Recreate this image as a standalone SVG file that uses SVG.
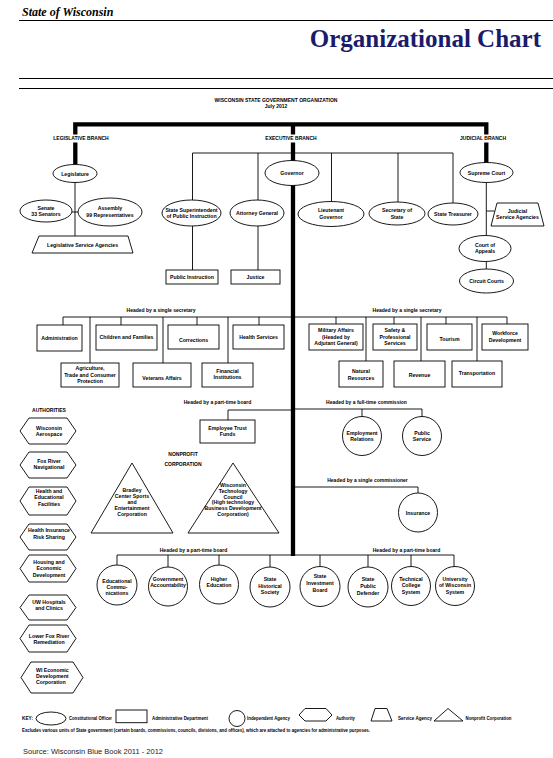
<svg xmlns="http://www.w3.org/2000/svg" width="553" height="758" viewBox="0 0 553 758">
<style>
.t{font-family:"Liberation Sans",Arial,sans-serif;font-size:5.2px;font-weight:bold;text-anchor:middle;fill:#000}
.ts{font-family:"Liberation Sans",Arial,sans-serif;font-size:5.2px;font-weight:bold;text-anchor:start;fill:#000}
.h{font-family:"Liberation Sans",Arial,sans-serif;font-size:5px;font-weight:bold;text-anchor:middle;fill:#000}
.k{font-family:"Liberation Sans",Arial,sans-serif;font-size:4.9px;font-weight:bold;fill:#000}
.s{fill:#fff;stroke:#000;stroke-width:0.9}
.c{fill:none;stroke:#000;stroke-width:0.9}
.b{fill:none;stroke:#000;stroke-width:4.3}
.r{fill:none;stroke:#000;stroke-width:1}
.w{fill:#fff}
</style>
<rect width="553" height="758" fill="#fff"/>
<g id="header">
<text x="22" y="15.5" font-family="'Liberation Serif',serif" font-size="12" font-weight="bold" font-style="italic">State of Wisconsin</text>
<line class="r" x1="19" y1="20.5" x2="553" y2="20.5"/>
<text x="541" y="47" text-anchor="end" font-family="'Liberation Serif',serif" font-size="25" font-weight="bold" fill="#1b1b6b">Organizational Chart</text>
<line class="r" x1="19" y1="78.5" x2="553" y2="78.5"/>
<line class="r" x1="19" y1="88.5" x2="553" y2="88.5"/>
<text class="h" x="276" y="101.7" font-size="4.8">WISCONSIN STATE GOVERNMENT ORGANIZATION</text>
<text class="h" x="276" y="108" font-size="4.6">July 2012</text>
</g>
<g id="connectors">
<path class="b" d="M75.3,164 V124.3 H486.3 V164"/>
<path class="b" d="M293,124 V556"/>
<path class="c" d="M75,182 V236 M72,212 H79"/>
<path class="c" d="M192.5,153 H453 M192.5,153 V200 M258,153 V200 M331.5,153 V201.5 M398,153 V202 M453,153 V203"/>
<path class="c" d="M192.5,226 V270 M258,226 V270"/>
<path class="c" d="M486.3,182 V235.5 M486.3,211 H494.5 M486.3,261.5 V269"/>
<path class="c" d="M63,317 H293 M63,317 V325 M90,317 V363 M121,317 V325 M163,317 V363 M197,317 V325 M228,317 V363 M259,317 V325"/>
<path class="c" d="M293,317 H507 M336,317 V324 M366,317 V361 M394,317 V324 M421,317 V361 M446,317 V324 M477,317 V361 M507,317 V324"/>
<path class="c" d="M293,410 H228 V420"/>
<path class="c" d="M293,409 H422 V417 M362,409 V417"/>
<path class="c" d="M293,487 H418 V493"/>
<path class="c" d="M117,555 H454 M117,555 V565 M168,555 V567 M219,555 V565 M270,555 V567 M320,555 V566.5 M368,555 V567 M411,555 V567 M454,555 V567"/>
</g>
<g id="labels">
<rect class="w" x="51" y="134.5" width="60" height="8"/>
<text class="h" x="81" y="140.3">LEGISLATIVE BRANCH</text>
<rect class="w" x="262" y="134.5" width="58" height="8"/>
<text class="h" x="291" y="140.3">EXECUTIVE BRANCH</text>
<rect class="w" x="457" y="134.5" width="52" height="8"/>
<text class="h" x="483" y="140.3">JUDICIAL BRANCH</text>
<text class="h" x="161" y="312">Headed by a single secretary</text>
<text class="h" x="407" y="311.5">Headed by a single secretary</text>
<text class="h" x="217.5" y="403.5">Headed by a part-time board</text>
<text class="h" x="366.5" y="403.5">Headed by a full-time commission</text>
<text class="h" x="367.5" y="482">Headed by a single commissioner</text>
<text class="h" x="49" y="412">AUTHORITIES</text>
<text class="h" x="183" y="455.5">NONPROFIT</text>
<text class="h" x="183" y="465.5">CORPORATION</text>
<text class="h" x="193.5" y="552">Headed by a part-time board</text>
<text class="h" x="406.5" y="551.5">Headed by a part-time board</text>
</g>
<g id="legislature"><ellipse class="s" cx="75" cy="173.5" rx="22" ry="9"/><text class="t" x="75" y="175.5">Legislature</text></g>
<g id="senate"><ellipse class="s" cx="46" cy="211" rx="26" ry="11"/><text class="t" x="46" y="209.5">Senate</text><text class="t" x="46" y="216">33 Senators</text></g>
<g id="assembly"><ellipse class="s" cx="110" cy="212" rx="32" ry="14"/><text class="t" x="110" y="210">Assembly</text><text class="t" x="110" y="216.5">99 Representatives</text></g>
<g id="legislative-service-agencies"><path class="s" d="M39,236 H128 L133,253 H32 Z"/><text class="t" x="82.5" y="246.5">Legislative Service Agencies</text></g>
<g id="governor"><ellipse class="s" cx="292" cy="173" rx="27" ry="12.5"/><text class="t" x="292" y="175">Governor</text></g>
<g id="state-superintendent"><ellipse class="s" cx="191.5" cy="213" rx="29.5" ry="13"/><text class="t" x="191.5" y="211.5">State Superintendent</text><text class="t" x="191.5" y="218">of Public Instruction</text></g>
<g id="attorney-general"><ellipse class="s" cx="257" cy="213" rx="27" ry="13"/><text class="t" x="257" y="215">Attorney General</text></g>
<g id="lieutenant-governor"><ellipse class="s" cx="331" cy="214" rx="33" ry="12.5"/><text class="t" x="331" y="212">Lieutenant</text><text class="t" x="331" y="218.5">Governor</text></g>
<g id="secretary-of-state"><ellipse class="s" cx="397" cy="213.5" rx="28" ry="11.5"/><text class="t" x="397" y="212">Secretary of</text><text class="t" x="397" y="218.5">State</text></g>
<g id="state-treasurer"><ellipse class="s" cx="453" cy="214" rx="25" ry="11"/><text class="t" x="453" y="216">State Treasurer</text></g>
<g id="public-instruction"><rect class="s" x="166" y="270" width="52" height="14"/><text class="t" x="192" y="279">Public Instruction</text></g>
<g id="justice"><rect class="s" x="231" y="270" width="49" height="14"/><text class="t" x="255.5" y="279">Justice</text></g>
<g id="supreme-court"><ellipse class="s" cx="486.5" cy="172.5" rx="26.5" ry="10"/><text class="t" x="486.5" y="174.5">Supreme Court</text></g>
<g id="judicial-service-agencies"><path class="s" d="M497,203 H538 L544,226 H491 Z"/><text class="t" x="517.5" y="212.5">Judicial</text><text class="t" x="517.5" y="219">Service Agencies</text></g>
<g id="court-of-appeals"><ellipse class="s" cx="485" cy="248.5" rx="26" ry="13"/><text class="t" x="485" y="246.5">Court of</text><text class="t" x="485" y="253">Appeals</text></g>
<g id="circuit-courts"><ellipse class="s" cx="486.5" cy="281" rx="27" ry="12"/><text class="t" x="486.5" y="283">Circuit Courts</text></g>
<g id="administration"><rect class="s" x="37" y="325" width="45" height="26"/><text class="t" x="59.5" y="340">Administration</text></g>
<g id="children-and-families"><rect class="s" x="96" y="325" width="61" height="25"/><text class="t" x="126.5" y="339">Children and Families</text></g>
<g id="corrections"><rect class="s" x="168" y="325" width="51" height="24"/><text class="t" x="193.5" y="342">Corrections</text></g>
<g id="health-services"><rect class="s" x="233" y="325" width="51" height="24"/><text class="t" x="258.5" y="339">Health Services</text></g>
<g id="agriculture"><rect class="s" x="61" y="363" width="58" height="24"/><text class="t" x="90" y="370">Agriculture,</text><text class="t" x="90" y="376.5">Trade and Consumer</text><text class="t" x="90" y="383">Protection</text></g>
<g id="veterans-affairs"><rect class="s" x="133" y="363" width="58" height="24"/><text class="t" x="162" y="379.5">Veterans Affairs</text></g>
<g id="financial-institutions"><rect class="s" x="202" y="363" width="51" height="24"/><text class="t" x="227.5" y="372.5">Financial</text><text class="t" x="227.5" y="378.5">Institutions</text></g>
<g id="military-affairs"><rect class="s" x="309" y="324" width="54" height="26"/><text class="t" x="336" y="332">Military Affairs</text><text class="t" x="336" y="338.5">(Headed by</text><text class="t" x="336" y="345">Adjutant General)</text></g>
<g id="safety-professional-services"><rect class="s" x="373" y="324" width="44" height="26"/><text class="t" x="395" y="332">Safety &amp;</text><text class="t" x="395" y="338.5">Professional</text><text class="t" x="395" y="345">Services</text></g>
<g id="tourism"><rect class="s" x="427" y="324" width="45" height="26"/><text class="t" x="449.5" y="341">Tourism</text></g>
<g id="workforce-development"><rect class="s" x="482" y="324" width="46" height="26"/><text class="t" x="505" y="335">Workforce</text><text class="t" x="505" y="342">Development</text></g>
<g id="natural-resources"><rect class="s" x="339" y="361" width="44" height="26"/><text class="t" x="361" y="372.5">Natural</text><text class="t" x="361" y="380">Resources</text></g>
<g id="revenue"><rect class="s" x="394" y="361" width="51" height="26"/><text class="t" x="419.5" y="377">Revenue</text></g>
<g id="transportation"><rect class="s" x="452" y="361" width="50" height="26"/><text class="t" x="477" y="374.5">Transportation</text></g>
<g id="employee-trust-funds"><rect class="s" x="200" y="420" width="55" height="23"/><text class="t" x="227.5" y="429.5">Employee Trust</text><text class="t" x="227.5" y="436">Funds</text></g>
<g id="employment-relations"><circle class="s" cx="362" cy="436" r="19.5"/><text class="t" x="362" y="434.5">Employment</text><text class="t" x="362" y="441">Relations</text></g>
<g id="public-service"><circle class="s" cx="422" cy="436" r="19.5"/><text class="t" x="422" y="434.5">Public</text><text class="t" x="422" y="441">Service</text></g>
<g id="insurance"><circle class="s" cx="418" cy="512.5" r="19.5"/><text class="t" x="418" y="514.5">Insurance</text></g>
<g id="bradley-center"><path class="s" d="M132,463 L173,533 H91 Z"/><text class="t" x="132" y="492">Bradley</text><text class="t" x="132" y="498">Center Sports</text><text class="t" x="132" y="504">and</text><text class="t" x="132" y="510">Entertainment</text><text class="t" x="132" y="516">Corporation</text></g>
<g id="wisconsin-technology-council"><path class="s" d="M233,463 L279,533 H188 Z"/><text class="t" x="233" y="487">Wisconsin</text><text class="t" x="233" y="492.7">Technology</text><text class="t" x="233" y="498.5">Council</text><text class="t" x="233" y="504.3">(High technology</text><text class="t" x="233" y="510">Business Development</text><text class="t" x="233" y="516">Corporation)</text></g>
<g id="wisconsin-aerospace"><path class="s" d="M20,431 L29,418 H67 L76,431 L67,444 H29 Z"/><text class="t" x="49" y="430">Wisconsin</text><text class="t" x="49" y="436">Aerospace</text></g>
<g id="fox-river-navigational"><path class="s" d="M20,465 L29,452 H67 L76,465 L67,478 H29 Z"/><text class="t" x="49" y="463">Fox River</text><text class="t" x="49" y="469">Navigational</text></g>
<g id="health-educational-facilities"><path class="s" d="M20,501 L29,487 H67 L76,501 L67,515 H29 Z"/><text class="t" x="49" y="492.5">Health and</text><text class="t" x="49" y="499">Educational</text><text class="t" x="49" y="505.5">Facilities</text></g>
<g id="health-insurance-risk-sharing"><path class="s" d="M20,537 L29,524 H67 L76,537 L67,550 H29 Z"/><text class="t" x="49" y="532">Health Insurance</text><text class="t" x="49" y="538.5">Risk Sharing</text></g>
<g id="housing-economic-development"><path class="s" d="M20,568.5 L29,555 H67 L76,568.5 L67,582 H29 Z"/><text class="t" x="49" y="563.5">Housing and</text><text class="t" x="49" y="570">Economic</text><text class="t" x="49" y="576.5">Development</text></g>
<g id="uw-hospitals"><path class="s" d="M20,607.5 L29,595 H67 L76,607.5 L67,620 H29 Z"/><text class="t" x="49" y="604">UW Hospitals</text><text class="t" x="49" y="610">and Clinics</text></g>
<g id="lower-fox-river"><path class="s" d="M20,638.5 L29,625 H67 L76,638.5 L67,652 H29 Z"/><text class="t" x="49" y="637.5">Lower Fox River</text><text class="t" x="49" y="643.5">Remediation</text></g>
<g id="wi-economic-development"><path class="s" d="M21,677.5 L31,662 H73 L83,677.5 L73,693 H31 Z"/><text class="ts" x="36" y="672">WI Economic</text><text class="ts" x="36" y="677.8">Development</text><text class="ts" x="36" y="683.6">Corporation</text></g>
<g id="educational-communications"><circle class="s" cx="117" cy="585" r="20"/><text class="t" x="117" y="583">Educational</text><text class="t" x="117" y="589">Commu-</text><text class="t" x="117" y="595">nications</text></g>
<g id="government-accountability"><circle class="s" cx="168" cy="586.5" r="19.5"/><text class="t" x="168" y="581">Government</text><text class="t" x="168" y="587">Accountability</text></g>
<g id="higher-education"><circle class="s" cx="219" cy="584.5" r="19.5"/><text class="t" x="219" y="581">Higher</text><text class="t" x="219" y="587">Education</text></g>
<g id="state-historical-society"><circle class="s" cx="270" cy="587" r="20"/><text class="t" x="270" y="581">State</text><text class="t" x="270" y="587.5">Historical</text><text class="t" x="270" y="594">Society</text></g>
<g id="state-investment-board"><circle class="s" cx="320" cy="586.5" r="20"/><text class="t" x="320" y="577.5">State</text><text class="t" x="320" y="584.5">Investment</text><text class="t" x="320" y="591.5">Board</text></g>
<g id="state-public-defender"><circle class="s" cx="368" cy="587" r="20"/><text class="t" x="368" y="581">State</text><text class="t" x="368" y="588">Public</text><text class="t" x="368" y="594.5">Defender</text></g>
<g id="technical-college-system"><circle class="s" cx="411" cy="586" r="19.5"/><text class="t" x="411" y="580.5">Technical</text><text class="t" x="411" y="587">College</text><text class="t" x="411" y="594">System</text></g>
<g id="university-of-wisconsin-system"><circle class="s" cx="455" cy="586" r="19.5"/><text class="t" x="455" y="580.5">University</text><text class="t" x="455" y="587">of Wisconsin</text><text class="t" x="455" y="594">System</text></g>
<g id="key">
<text class="k" x="22" y="720" textLength="11" lengthAdjust="spacingAndGlyphs">KEY:</text>
<ellipse class="s" cx="51" cy="718.5" rx="15" ry="6.5"/>
<text class="k" x="69" y="720" textLength="43" lengthAdjust="spacingAndGlyphs">Constitutional Officer</text>
<rect class="s" x="116" y="710" width="31" height="12.7"/>
<text class="k" x="152" y="720" textLength="56" lengthAdjust="spacingAndGlyphs">Administrative Department</text>
<circle class="s" cx="237" cy="718.5" r="8"/>
<text class="k" x="247" y="720" textLength="43" lengthAdjust="spacingAndGlyphs">Independent Agency</text>
<path class="s" d="M299,715 L305,708.5 H326 L332,715 L326,721 H305 Z"/>
<text class="k" x="336" y="720" textLength="19" lengthAdjust="spacingAndGlyphs">Authority</text>
<path class="s" d="M375,708.5 H387 L392,721 H371 Z"/>
<text class="k" x="398" y="720" textLength="34" lengthAdjust="spacingAndGlyphs">Service Agency</text>
<path class="s" d="M448,708.5 L463,721 H434 Z"/>
<text class="k" x="465.5" y="720" textLength="46" lengthAdjust="spacingAndGlyphs">Nonprofit Corporation</text>
<text class="k" x="22" y="731.5" font-size="4.5" textLength="348" lengthAdjust="spacingAndGlyphs">Excludes various units of State government (certain boards, commissions, councils, divisions, and offices), which are attached to agencies for administrative purposes.</text>
<text x="23" y="754" font-family="'Liberation Sans',Arial,sans-serif" font-size="8" fill="#222" textLength="140" lengthAdjust="spacingAndGlyphs">Source:  Wisconsin Blue Book 2011 - 2012</text>
</g>
</svg>
